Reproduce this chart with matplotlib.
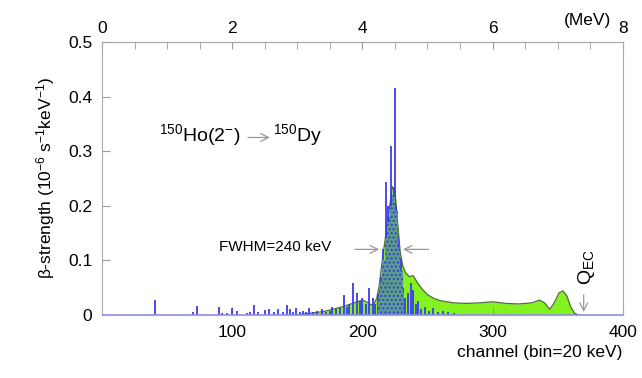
import matplotlib
matplotlib.use("Agg")
import matplotlib.pyplot as plt
from matplotlib.ticker import MultipleLocator

plt.rcParams["font.family"] = ["Liberation Sans", "DejaVu Sans"]
plt.rcParams["mathtext.default"] = "regular"

# smoothed (green) strength, channel vs value
green_ch = [150, 160, 170, 175, 180, 185, 190, 195, 200, 203, 207, 209, 211, 213,
            215, 217, 219, 221, 223, 225, 227, 229, 231, 233, 236, 239, 242, 246,
            250, 255, 260, 270, 280, 290, 300, 310, 320, 330, 336, 340, 344, 348,
            351, 354, 357, 360, 363, 366]
green_val = [0.0, 0.003, 0.006, 0.009, 0.012, 0.015, 0.019, 0.023, 0.027, 0.024,
             0.018, 0.021, 0.03, 0.055, 0.095, 0.13, 0.165, 0.2, 0.235, 0.225,
             0.17, 0.115, 0.09, 0.078, 0.07, 0.072, 0.06, 0.047, 0.037, 0.03,
             0.026, 0.022, 0.021, 0.022, 0.024, 0.021, 0.02, 0.022, 0.027, 0.022,
             0.01, 0.025, 0.04, 0.044, 0.035, 0.015, 0.003, 0.0]

# discrete (blue) strengths
blue_ch = [41, 70, 73, 90, 92, 96, 100, 104, 111, 114, 117, 120, 125, 128, 132,
           135, 139, 142, 144, 147, 149, 152, 154, 157, 159, 162, 165, 169, 172,
           175, 177, 180, 183, 186, 188, 190, 193, 196, 198, 200, 203, 205, 208,
           210, 212, 214, 216, 218, 219, 220, 221, 222, 223, 224, 225, 226, 227,
           228, 229, 230, 231, 233, 235, 237, 239, 241, 243, 245, 248, 251, 254,
           258, 262, 266, 270]
blue_val = [0.027, 0.005, 0.016, 0.014, 0.003, 0.004, 0.013, 0.008, 0.004, 0.006,
            0.018, 0.006, 0.009, 0.01, 0.005, 0.01, 0.006, 0.018, 0.01, 0.005,
            0.012, 0.006, 0.008, 0.005, 0.012, 0.006, 0.008, 0.01, 0.006, 0.008,
            0.015, 0.01, 0.012, 0.037, 0.015, 0.02, 0.058, 0.04, 0.025, 0.03,
            0.02, 0.05, 0.03, 0.02, 0.04, 0.07, 0.12, 0.243, 0.16, 0.2, 0.18,
            0.31, 0.22, 0.235, 0.415, 0.2, 0.14, 0.1, 0.06, 0.105, 0.05, 0.03,
            0.04, 0.058, 0.045, 0.02, 0.025, 0.01, 0.015, 0.008, 0.012, 0.006,
            0.008, 0.005, 0.004]

# dense (dotted) part of the blue spectrum inside the peak
dense_ch = [212, 214, 216, 218, 220, 222, 224, 226, 228, 230, 232]
dense_val = [0.03, 0.06, 0.1, 0.14, 0.17, 0.2, 0.22, 0.19, 0.12, 0.08, 0.04]

fig = plt.figure(figsize=(6.42, 3.78), dpi=100, facecolor="white")
ax = fig.add_axes([0.159, 0.167, 0.811, 0.722])

ax.fill_between(green_ch, green_val, color="#84f21e", lw=0, zorder=1)
ax.plot(green_ch, green_val, color="#4f6a40", lw=0.9, zorder=2)
ax.vlines(blue_ch, 0, blue_val, color="#3c3cf0", lw=1.3, zorder=3)
ax.fill_between(dense_ch, dense_val, step="mid", facecolor="#5c9c8c",
                edgecolor="#3040d8", hatch="....", lw=0, zorder=4)
ax.axhline(0, color="#8a8ae6", lw=1.2, zorder=5)

ax.set_xlim(0, 400)
ax.set_ylim(0, 0.5)
ax.set_xticks([100, 200, 300, 400])
ax.set_yticks([0, 0.1, 0.2, 0.3, 0.4, 0.5], ["0", "0.1", "0.2", "0.3", "0.4", "0.5"])
ax.tick_params(axis="both", direction="in", length=6, color="#999999",
               labelsize=12.5, pad=7)
for s in ax.spines.values():
    s.set_color("#aaaaaa")

ax.set_xlabel("channel (bin=20 keV)", loc="right", fontsize=12.5, labelpad=4)
ax.set_ylabel("β-strength (10$^{-6}$ s$^{-1}$keV$^{-1}$)", fontsize=12.5, labelpad=8)

top = ax.secondary_xaxis("top", functions=(lambda c: c * 0.02, lambda e: e / 0.02))
top.set_xticks([0, 2, 4, 6, 8])
top.xaxis.set_minor_locator(MultipleLocator(0.5))
top.tick_params(which="both", direction="in", length=5, color="#999999",
                labelsize=12.5, pad=4)
top.spines["top"].set_color("#aaaaaa")
ax.text(373, 0.525, "(MeV)", fontsize=12.5, ha="center", va="bottom")

arr = dict(arrowstyle="->", color="#999999", lw=0.9, mutation_scale=14)
ax.text(44, 0.33, "$^{150}$Ho(2$^{-}$)", fontsize=14, va="center")
ax.annotate("", xy=(131, 0.325), xytext=(110, 0.325), arrowprops=arr)
ax.text(131, 0.33, "$^{150}$Dy", fontsize=14, va="center")

ax.text(90, 0.125, "FWHM=240 keV", fontsize=11, va="center")
ax.annotate("", xy=(215, 0.12), xytext=(192, 0.12), arrowprops=arr)
ax.annotate("", xy=(229, 0.12), xytext=(253, 0.12), arrowprops=arr)

ax.annotate("", xy=(370, 0.0), xytext=(370, 0.042), arrowprops=arr)
ax.text(372, 0.088, "Q$_{EC}$", fontsize=14, rotation=90, ha="center", va="center")

fig.savefig("out.png", dpi=100)
